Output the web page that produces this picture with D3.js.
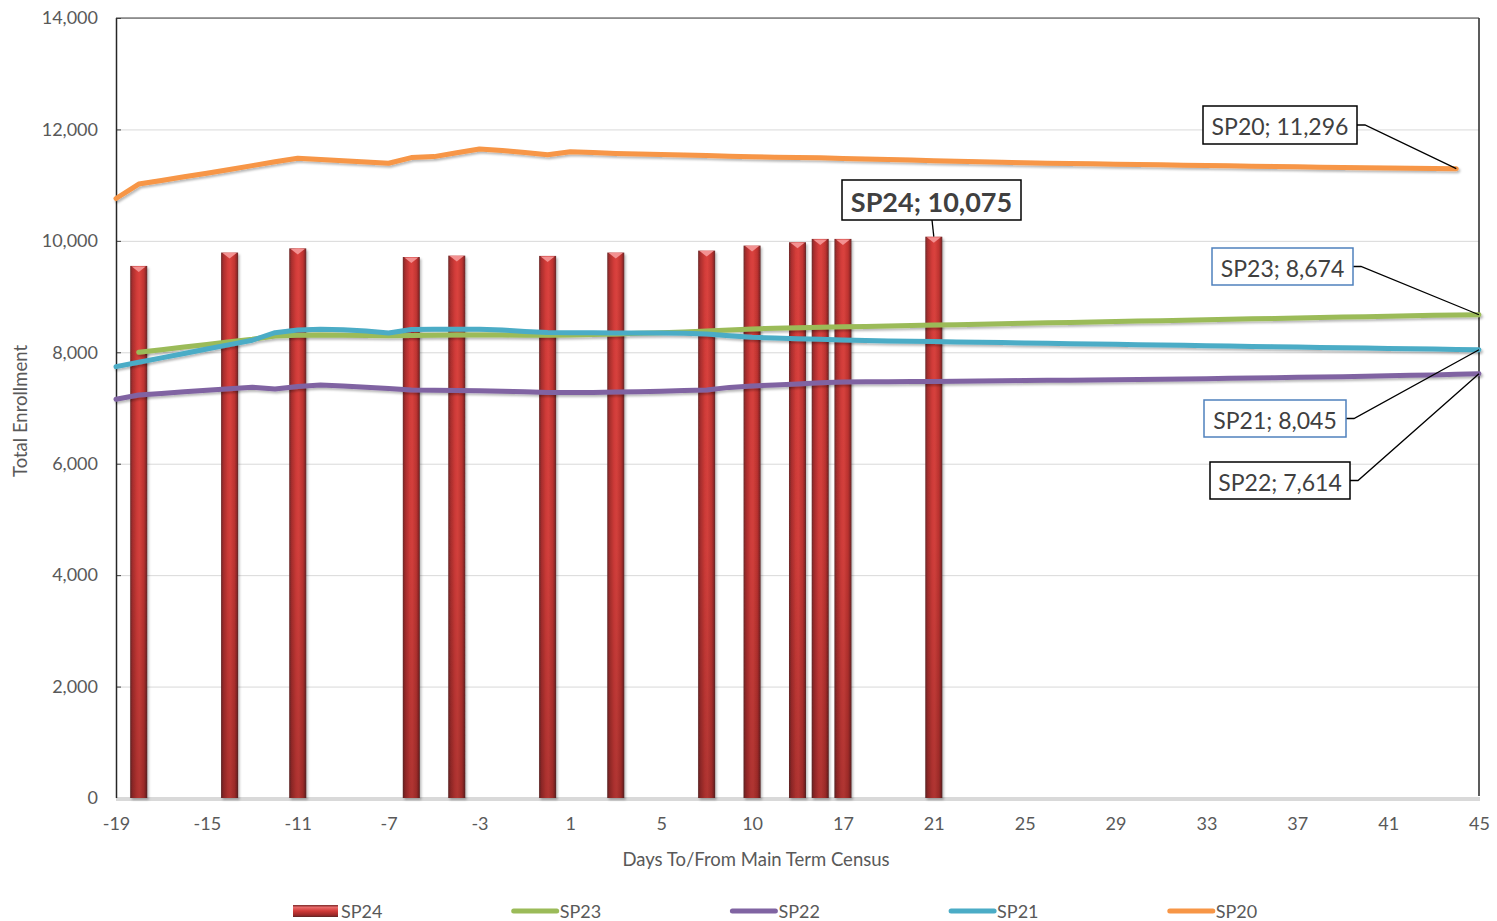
<!DOCTYPE html>
<html><head><meta charset="utf-8">
<script src="https://cdn.jsdelivr.net/npm/d3@7"></script>
<style>body{margin:0;background:#fff}svg{display:block;font-family:Lato,"Open Sans",sans-serif}</style>
</head><body><svg id="c" width="1497" height="921"></svg>
<script>
// ---------- DATA ----------
const categories = [-19,-18,-17,-16,-15,-14,-13,-12,-11,-10,-9,-8,-7,-6,-5,-4,-3,-2,-1,0,1,2,3,4,5,6,7,8,10,14,15,16,17,18,19,20,21,22,23,24,25,26,27,28,29,30,31,32,33,34,35,36,37,38,39,40,41,42,43,44,45];
const xTickLabels = [-19,-15,-11,-7,-3,1,5,10,17,21,25,29,33,37,41,45];
const yTicks = [0,2000,4000,6000,8000,10000,12000,14000];
const seriesNames = ["SP24","SP23","SP22","SP21","SP20"];
const seriesColors = ["#c0392b","#9bbb59","#8064a2","#4bacc6","#f79646"];

const sp24 = [null,9550,null,null,null,9790,null,null,9865,null,null,null,null,9710,null,9735,null,null,null,9730,null,null,9790,null,null,null,9825,null,9915,null,9975,10035,10035,null,null,null,10075,null,null,null,null,null,null,null,null,null,null,null,null,null,null,null,null,null,null,null,null,null,null,null,null];
const sp23 = [null,8000,8047,8094,8141,8188,8235,8293,8305,8310,8305,8300,8295,8300,8305,8310,8312,8310,8305,8305,8310,8320,8330,8340,8350,8365,8380,8400,8420,8432,8442,8450,8458,8464,8472,8480,8488,8496,8504,8512,8520,8528,8536,8544,8552,8560,8568,8576,8584,8592,8600,8608,8616,8624,8632,8640,8648,8656,8664,8670,8674];
const sp22 = [7156,7234,7262,7290,7318,7346,7372,7340,7385,7412,7395,7372,7350,7325,7318,7314,7311,7300,7290,7280,7276,7280,7285,7290,7300,7315,7325,7370,7395,7415,7432,7452,7468,7470,7472,7474,7476,7480,7484,7488,7492,7496,7500,7504,7508,7512,7516,7520,7526,7532,7538,7544,7550,7556,7562,7570,7578,7586,7594,7604,7614];
const sp21 = [7742,7821,7900,7979,8058,8137,8216,8352,8400,8415,8405,8380,8345,8410,8412,8412,8415,8400,8375,8355,8352,8350,8348,8346,8345,8343,8330,8295,8268,8255,8243,8232,8222,8210,8204,8198,8192,8186,8180,8174,8168,8161,8155,8149,8143,8137,8131,8125,8119,8112,8106,8100,8094,8088,8082,8076,8070,8063,8057,8051,8045];
const sp20 = [10760,11020,11085,11150,11215,11280,11350,11420,11483,11460,11438,11415,11393,11494,11512,11580,11650,11620,11585,11545,11600,11585,11570,11560,11550,11540,11530,11520,11510,11500,11495,11490,11480,11470,11460,11450,11440,11430,11420,11410,11400,11395,11390,11383,11376,11370,11364,11358,11352,11346,11340,11334,11328,11322,11317,11312,11308,11304,11300,11296,null];

// ---------- CHART ----------
const svg = d3.select("#c");
const L = 116, R = 1479, T = 18, B = 798;
const x = d3.scalePoint().domain(categories).range([L, R]);
const y = d3.scaleLinear().domain([0, 14000]).range([B, T]);
const fmt = d3.format(",");
const txt = "#595959";

const defs = svg.append("defs");
const f = defs.append("filter").attr("id","sh").attr("filterUnits","userSpaceOnUse")
  .attr("x",0).attr("y",0).attr("width",1497).attr("height",921);
f.append("feDropShadow").attr("dx",1.5).attr("dy",2).attr("stdDeviation",1.3)
  .attr("flood-color","#000").attr("flood-opacity",0.28);
const bg = defs.append("linearGradient").attr("id","barH").attr("x1",0).attr("x2",1).attr("y1",0).attr("y2",0);
[[0,"#6e2c2c"],[0.14,"#aa2d2d"],[0.4,"#d43d3a"],[0.55,"#da423e"],[0.8,"#c03431"],[0.92,"#932828"],[1,"#5e2a2a"]]
  .forEach(([o,c])=>bg.append("stop").attr("offset",o).attr("stop-color",c));
const bv = defs.append("linearGradient").attr("id","barV").attr("x1",0).attr("x2",0).attr("y1",0).attr("y2",1);
[[0,"#000",0],[0.55,"#000",0.04],[1,"#000",0.2]]
  .forEach(([o,c,a])=>bv.append("stop").attr("offset",o).attr("stop-color",c).attr("stop-opacity",a));
const lg = defs.append("linearGradient").attr("id","legBar").attr("x1",0).attr("x2",0).attr("y1",0).attr("y2",1);
[[0,"#7a2a2a"],[0.2,"#e86a6a"],[0.5,"#d03a38"],[0.85,"#9a2828"],[1,"#5a2626"]]
  .forEach(([o,c])=>lg.append("stop").attr("offset",o).attr("stop-color",c));

// gridlines
svg.append("g").selectAll("line").data(yTicks.filter(d=>d>0)).join("line")
  .attr("x1",L).attr("x2",R).attr("y1",d=>y(d)+0.5).attr("y2",d=>y(d)+0.5)
  .attr("stroke","#d9d9d9").attr("stroke-width",1);

// y axis
const ya = svg.append("g").attr("transform",`translate(${L},0)`)
  .call(d3.axisLeft(y).tickValues(yTicks).tickFormat(fmt).tickSizeInner(-5).tickSizeOuter(0).tickPadding(18));
ya.select(".domain").remove();
ya.selectAll(".tick line").attr("stroke","#404040");
ya.selectAll("text").attr("font-size",18).attr("fill",txt).attr("font-family","Lato");

// x axis
const xa = svg.append("g").attr("transform",`translate(0,${B})`)
  .call(d3.axisBottom(x).tickValues(xTickLabels).tickSize(0).tickPadding(19));
xa.select(".domain").remove();
xa.selectAll("text").attr("font-size",18).attr("fill",txt).attr("font-family","Lato");

// frame
svg.append("rect").attr("x",L).attr("y",B-1).attr("width",R-L+1).attr("height",4).attr("fill","#d9d9d9");
svg.append("line").attr("x1",L+0.5).attr("x2",L+0.5).attr("y1",T).attr("y2",B).attr("stroke","#262626").attr("stroke-width",1.5);
svg.append("line").attr("x1",R).attr("x2",R).attr("y1",T).attr("y2",B-2).attr("stroke","#262626").attr("stroke-width",1.5);
svg.append("line").attr("x1",L).attr("x2",R).attr("y1",T).attr("y2",T).attr("stroke","#404040").attr("stroke-width",1);

// titles
svg.append("text").attr("transform","translate(20,411) rotate(-90)").attr("text-anchor","middle")
  .attr("dominant-baseline","central").attr("font-size",18.5).attr("fill",txt).text("Total Enrollment");
svg.append("text").attr("x",756).attr("y",859).attr("text-anchor","middle")
  .attr("dominant-baseline","central").attr("font-size",18.5).attr("fill",txt).text("Days To/From Main Term Census");

// bars
const bw = 17;
const barData = categories.map((c,i)=>({c, v: sp24[i]})).filter(d=>d.v!=null);
const bars = svg.append("g").attr("filter","url(#sh)");
bars.selectAll("rect.b").data(barData).join("rect").attr("class","b")
  .attr("x",d=>x(d.c)-bw/2).attr("width",bw).attr("y",d=>y(d.v)).attr("height",d=>B-y(d.v))
  .attr("fill","url(#barH)");
svg.append("g").selectAll("rect").data(barData).join("rect")
  .attr("x",d=>x(d.c)-bw/2).attr("width",bw).attr("y",d=>y(d.v)).attr("height",d=>B-y(d.v))
  .attr("fill","url(#barV)");
svg.append("g").selectAll("path").data(barData).join("path")
  .attr("d",d=>{const cx=x(d.c), t=y(d.v); return `M${cx-7},${t+0.5}L${cx+7},${t+0.5}L${cx},${t+6}Z`;})
  .attr("fill","#f39191");

// lines
const lineSeries = [
  {name:"SP23", vals:sp23, color:seriesColors[1]},
  {name:"SP22", vals:sp22, color:seriesColors[2]},
  {name:"SP21", vals:sp21, color:seriesColors[3]},
  {name:"SP20", vals:sp20, color:seriesColors[4]}
];
const line = d3.line().defined(d=>d.v!=null).x(d=>x(d.c)).y(d=>y(d.v));
svg.append("g").attr("filter","url(#sh)").selectAll("path").data(lineSeries).join("path")
  .attr("d",s=>line(categories.map((c,i)=>({c, v:s.vals[i]}))))
  .attr("fill","none").attr("stroke",s=>s.color).attr("stroke-width",5)
  .attr("stroke-linejoin","round").attr("stroke-linecap","round");

// data labels
function lastPoint(vals){ for(let i=vals.length-1;i>=0;i--) if(vals[i]!=null) return {c:categories[i], v:vals[i]}; }
const annots = [
  {name:"SP20", p:lastPoint(sp20), box:[1203,106,154,38], border:"#000", size:23, bold:false, side:"right"},
  {name:"SP23", p:lastPoint(sp23), box:[1212,248,141,37], border:"#4f81bd", size:23, bold:false, side:"right"},
  {name:"SP21", p:lastPoint(sp21), box:[1204,400,142,37], border:"#4f81bd", size:23, bold:false, side:"right"},
  {name:"SP22", p:lastPoint(sp22), box:[1210,462,140,37], border:"#000", size:23, bold:false, side:"right"},
  {name:"SP24", p:lastPoint(sp24), box:[842,180,179,40], border:"#000", size:27, bold:true, side:"bottom"}
];
const ag = svg.append("g");
annots.forEach(a=>{
  const [bx,by,bwid,bh] = a.box;
  const px = x(a.p.c), py = y(a.p.v);
  let pts;
  if(a.side==="right") pts = [[bx+bwid,by+bh/2],[bx+bwid+8,by+bh/2],[px,py]];
  else pts = [[bx+90,by+bh],[px,py]];
  ag.append("path").attr("d",d3.line()(pts)).attr("fill","none").attr("stroke","#000").attr("stroke-width",1.3);
  ag.append("rect").attr("x",bx).attr("y",by).attr("width",bwid).attr("height",bh)
    .attr("fill","#fff").attr("stroke",a.border).attr("stroke-width",1.5);
  ag.append("text").attr("x",bx+bwid/2).attr("y",by+bh/2+1).attr("text-anchor","middle")
    .attr("dominant-baseline","central").attr("font-size",a.size).attr("font-weight",a.bold?"bold":"normal")
    .attr("fill","#404040").text(`${a.name}; ${fmt(a.p.v)}`);
});

// legend
const leg = svg.append("g");
seriesNames.forEach((n,i)=>{
  const lx = 293 + i*218.7;
  if(i===0){
    leg.append("rect").attr("x",lx).attr("y",905).attr("width",45).attr("height",12).attr("fill","url(#legBar)");
  } else {
    leg.append("line").attr("x1",lx+2).attr("x2",lx+45).attr("y1",911).attr("y2",911)
      .attr("stroke",seriesColors[i]).attr("stroke-width",5).attr("stroke-linecap","round");
  }
  leg.append("text").attr("x",lx+48).attr("y",918).attr("font-size",18).attr("fill",txt).text(n);
});
</script></body></html>
